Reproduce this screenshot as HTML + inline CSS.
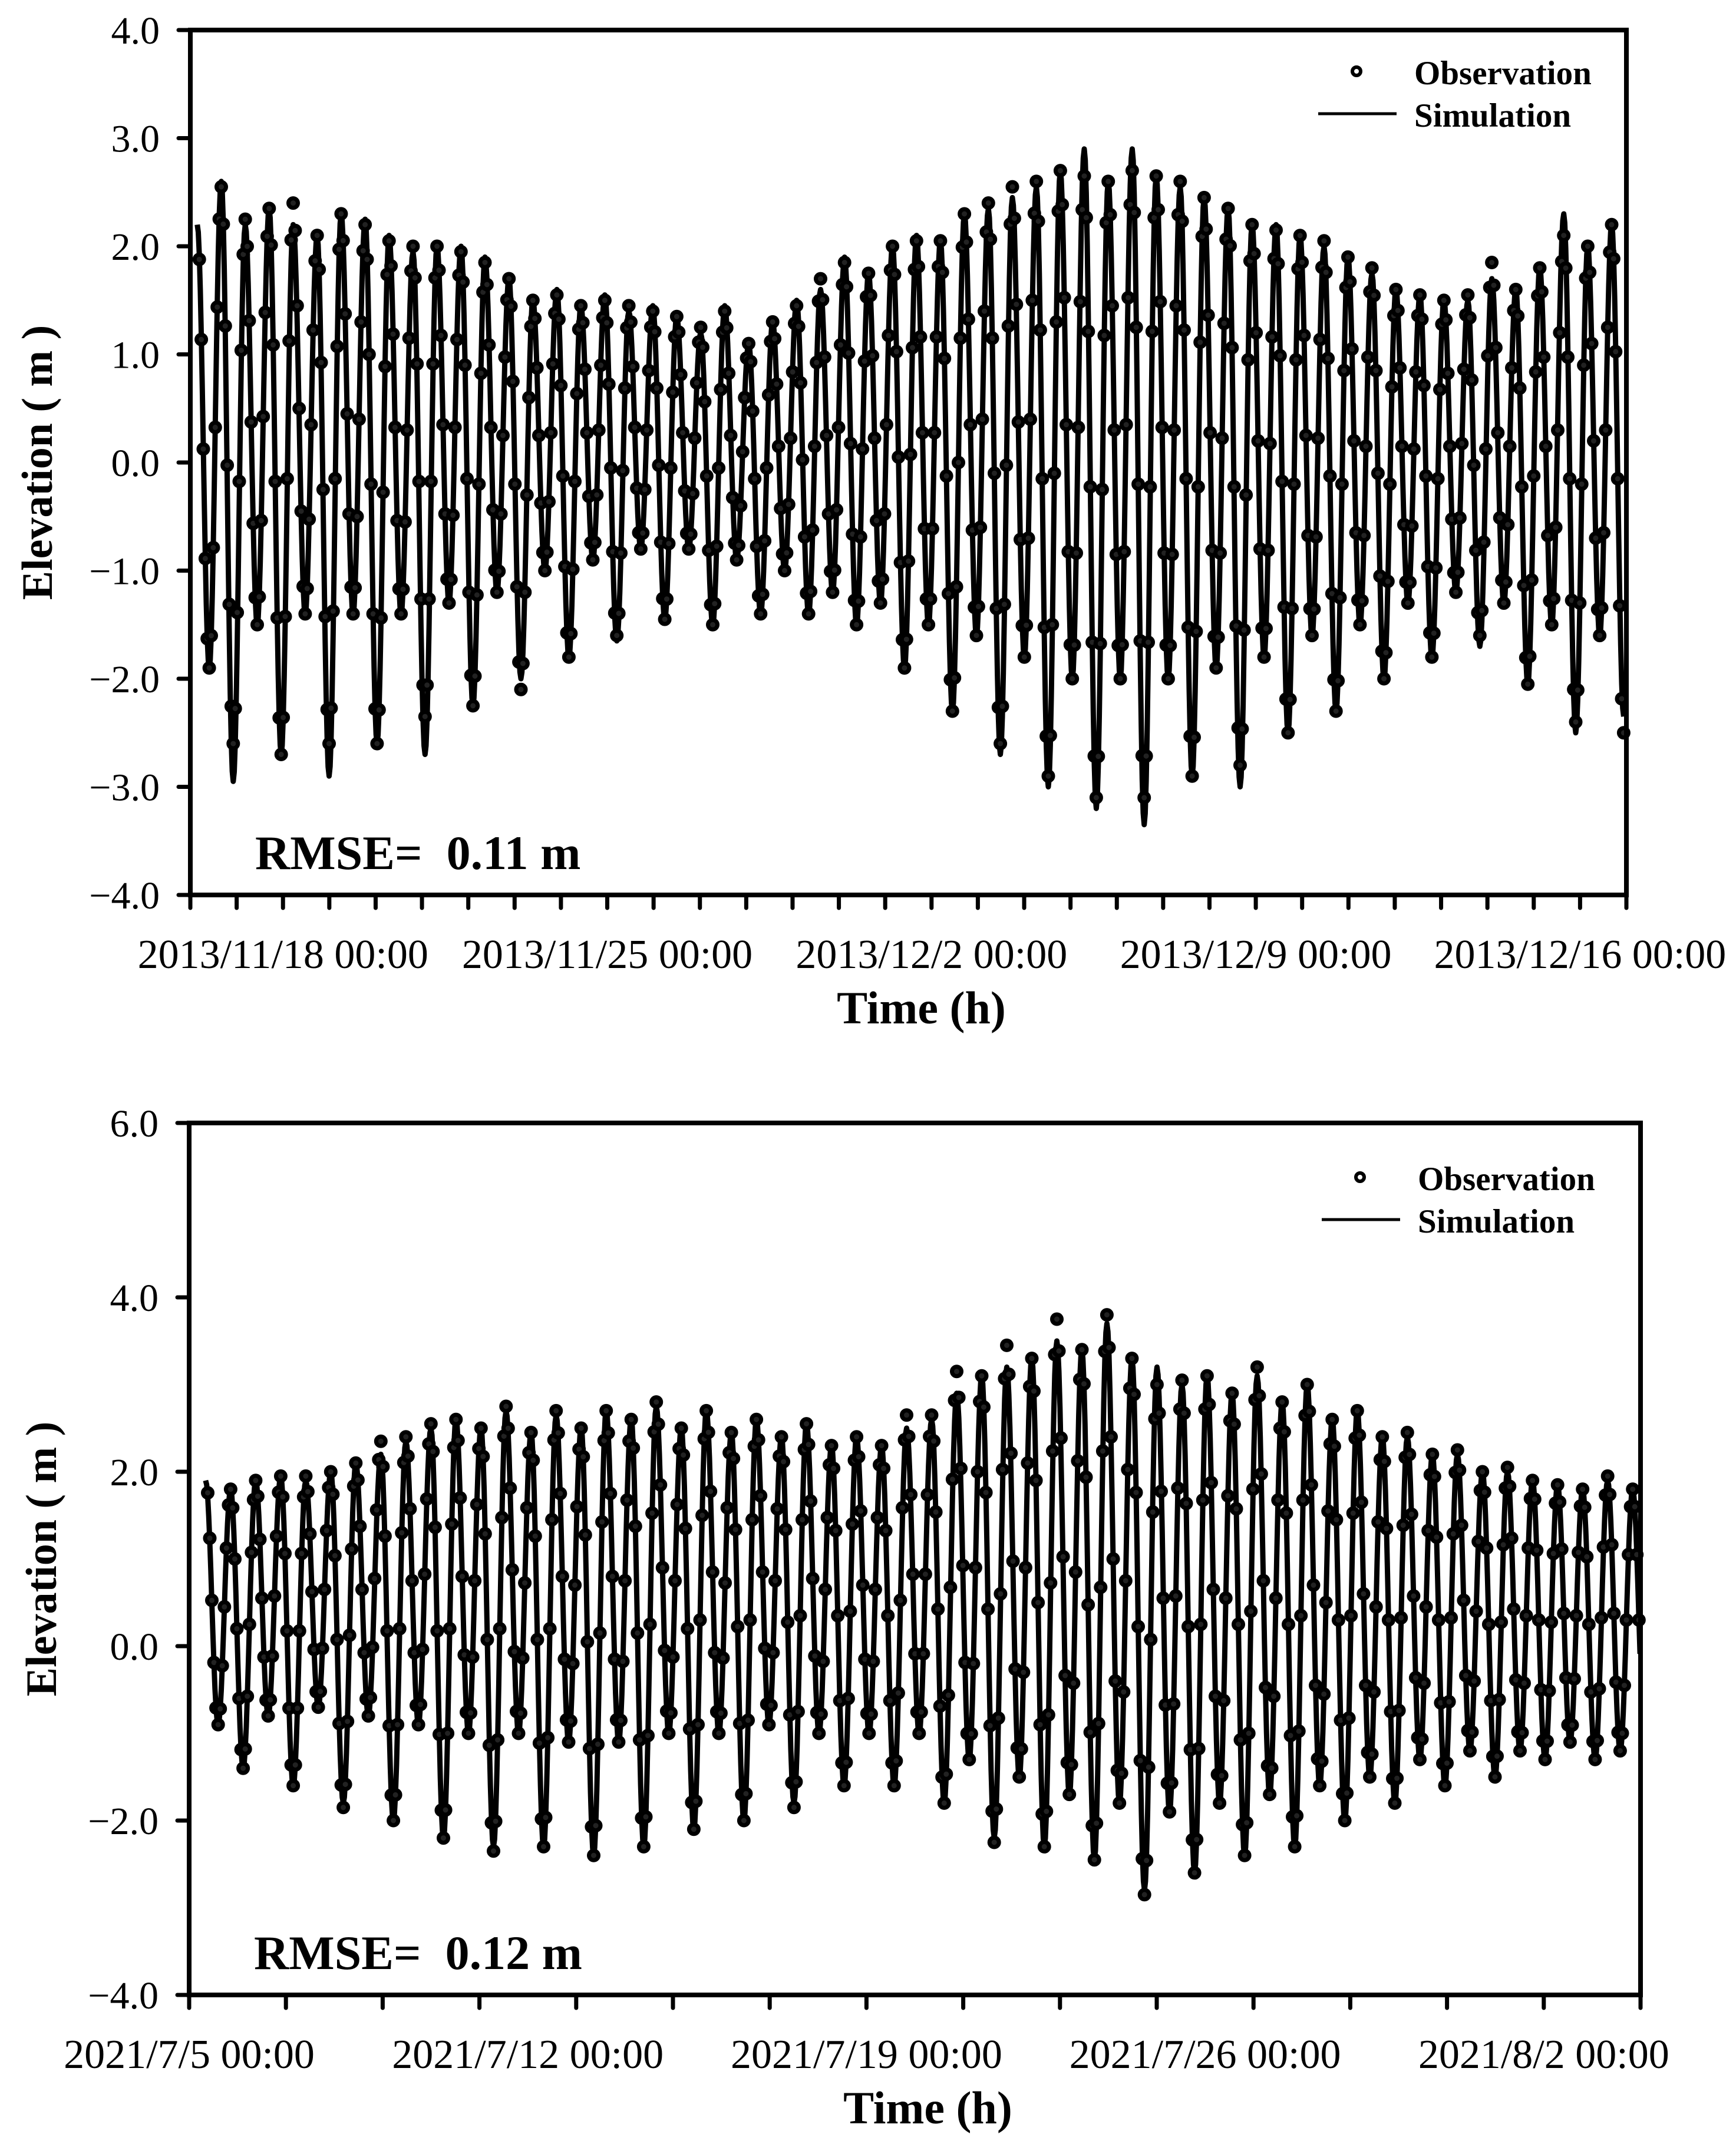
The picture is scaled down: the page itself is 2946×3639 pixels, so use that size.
<!DOCTYPE html>
<html><head><meta charset="utf-8">
<style>
html,body{margin:0;padding:0;background:#fff;}
svg{display:block;}
text{font-family:"Liberation Serif",serif;fill:#000;white-space:pre;}
</style></head>
<body>
<svg id="fig" width="2946" height="3639" viewBox="0 0 2946 3639" xmlns="http://www.w3.org/2000/svg"></svg>
<script>
// ---------- Chart 1 data (2013) ----------
const topYTicks = [4.0, 3.0, 2.0, 1.0, 0.0, -1.0, -2.0, -3.0, -4.0];
const topXLabels = ["2013/11/18 00:00", "2013/11/25 00:00", "2013/12/2 00:00", "2013/12/9 00:00", "2013/12/16 00:00"];
const topXLabelDays = [2, 9, 16, 23, 30];
const topHighs = [2.2,2.6,2.2,2.35,2.2,2.1,2.3,2.25,2.1,1.95,2.0,2.0,1.9,1.7,1.5,1.6,1.45,1.55,1.4,1.45,1.35,1.2,1.45,1.1,1.3,1.5,1.6,1.9,1.75,2.0,2.1,2.05,2.3,2.35,2.45,2.55,2.7,2.9,2.6,2.9,2.65,2.55,2.45,2.35,2.2,2.2,2.1,2.0,1.9,1.75,1.6,1.55,1.5,1.5,1.7,1.6,1.8,2.3,2.0,2.2];
const topLows = [-1.9,-2.95,-1.5,-2.7,-1.4,-2.9,-1.4,-2.6,-1.4,-2.7,-1.3,-2.25,-1.2,-2.0,-1.0,-1.8,-0.9,-1.65,-0.8,-1.45,-0.8,-1.5,-0.9,-1.4,-1.0,-1.4,-1.2,-1.5,-1.3,-1.9,-1.5,-2.3,-1.6,-2.7,-1.8,-3.0,-2.0,-3.2,-2.0,-3.35,-2.0,-2.9,-1.9,-3.0,-1.8,-2.5,-1.6,-2.3,-1.5,-2.0,-1.3,-1.8,-1.2,-1.7,-1.3,-2.05,-1.5,-2.5,-1.6,-2.35];
const topObsHighs = [2.15,2.55,2.25,2.35,2.4,2.1,2.3,2.2,2.05,2.0,2.0,1.95,1.85,1.7,1.5,1.55,1.45,1.5,1.45,1.4,1.35,1.25,1.4,1.1,1.3,1.45,1.7,1.85,1.75,2.0,2.05,2.05,2.3,2.4,2.55,2.6,2.7,2.65,2.6,2.7,2.65,2.6,2.45,2.35,2.2,2.15,2.1,2.05,1.9,1.8,1.6,1.55,1.5,1.55,1.85,1.6,1.8,2.1,2.0,2.2];
const topObsLows = [-1.9,-2.6,-1.5,-2.7,-1.4,-2.6,-1.4,-2.6,-1.4,-2.35,-1.3,-2.25,-1.2,-2.1,-1.0,-1.8,-0.9,-1.6,-0.8,-1.45,-0.8,-1.5,-0.9,-1.4,-1.0,-1.4,-1.2,-1.5,-1.3,-1.9,-1.5,-2.3,-1.6,-2.6,-1.8,-2.9,-2.0,-3.1,-2.0,-3.1,-2.0,-2.9,-1.9,-2.8,-1.8,-2.5,-1.6,-2.3,-1.5,-2.0,-1.3,-1.8,-1.2,-1.6,-1.3,-2.05,-1.5,-2.4,-1.6,-2.5];

// ---------- Chart 2 data (2021) ----------
const botYTicks = [6.0, 4.0, 2.0, 0.0, -2.0, -4.0];
const botXLabels = ["2021/7/5 00:00", "2021/7/12 00:00", "2021/7/19 00:00", "2021/7/26 00:00", "2021/8/2 00:00"];
const botXLabelDays = [0, 7, 14, 21, 28];
const botHighs = [1.9,1.8,1.9,1.95,1.9,2.0,2.1,2.2,2.35,2.5,2.6,2.5,2.7,2.45,2.65,2.5,2.7,2.6,2.75,2.5,2.7,2.45,2.6,2.4,2.55,2.3,2.4,2.3,2.5,2.6,2.9,3.1,3.2,3.3,3.5,3.4,3.7,3.3,3.2,3.0,3.1,2.9,3.1,2.8,3.0,2.6,2.7,2.4,2.4,2.2,2.2,2.0,2.0,1.9,1.85,1.8,1.9,1.8,1.9];
const botLows = [-0.9,-1.4,-0.8,-1.6,-0.7,-1.8,-0.8,-2.0,-0.9,-2.2,-1.0,-2.3,-1.0,-2.3,-1.1,-2.4,-1.1,-2.3,-1.0,-2.1,-1.0,-2.0,-0.9,-1.8,-1.0,-1.6,-1.0,-1.6,-1.0,-1.8,-1.3,-2.2,-1.5,-2.3,-1.7,-2.45,-1.8,-2.8,-1.9,-2.6,-1.8,-2.4,-1.7,-2.3,-1.6,-2.0,-1.5,-1.8,-1.3,-1.6,-1.2,-1.5,-1.2,-1.3,-1.1,-1.3,-1.2,-1.2,-1.1];
const botObsHighs = [1.95,1.8,1.9,1.95,1.95,2.0,2.1,2.35,2.4,2.55,2.6,2.5,2.75,2.45,2.7,2.5,2.7,2.6,2.8,2.5,2.7,2.45,2.6,2.4,2.55,2.3,2.4,2.3,2.65,2.65,3.15,3.1,3.45,3.3,3.75,3.4,3.8,3.3,3.0,3.05,3.1,2.9,3.2,2.8,3.0,2.6,2.7,2.4,2.45,2.2,2.25,2.0,2.05,1.9,1.85,1.8,1.95,1.8,1.9];
const botObsLows = [-0.9,-1.4,-0.8,-1.6,-0.7,-1.85,-0.8,-2.0,-0.9,-2.2,-1.0,-2.35,-1.0,-2.3,-1.1,-2.4,-1.1,-2.3,-1.0,-2.1,-1.0,-2.0,-0.9,-1.85,-1.0,-1.6,-1.0,-1.6,-1.0,-1.8,-1.3,-2.25,-1.5,-2.3,-1.7,-2.45,-1.8,-2.85,-1.9,-2.6,-1.8,-2.4,-1.7,-2.3,-1.6,-2.0,-1.5,-1.8,-1.3,-1.6,-1.2,-1.5,-1.2,-1.3,-1.1,-1.3,-1.2,-1.2,-1.1];

const NS = "http://www.w3.org/2000/svg";
const svg = document.getElementById("fig");
function mk(tag, attrs, parent){
  const e = document.createElementNS(NS, tag);
  for (const k in attrs) e.setAttribute(k, attrs[k]);
  (parent||svg).appendChild(e);
  return e;
}

function drawChart(cfg){
  const g = mk("g", {});
  
  
  const L=cfg.x0, R=cfg.x1, T=cfg.y0, B=cfg.y1;
  const xs = d => L + (d/cfg.days)*(R-L);
  const ys = v => T + (cfg.ymax - v)/(cfg.ymax-cfg.ymin)*(B-T);

  const period = 12.42/24;
  const ext = [];
  for (let i=0;i<cfg.highs.length;i++){
    ext.push({t: cfg.t0 + i*period, v: cfg.highs[i], o: cfg.obsHighs[i]});
    if (i < cfg.lows.length) ext.push({t: cfg.t0 + i*period + period/2, v: cfg.lows[i], o: cfg.obsLows[i]});
  }
  let d = "";
  const obsPts = [];
  for (let k=0;k<ext.length-1;k++){
    const a=ext[k], b=ext[k+1];
    const n=12;
    for (let j=0;j<=n;j++){
      const f=j/n, t=a.t+(b.t-a.t)*f;
      if (t<0 || t>cfg.days) continue;
      const w=(1-Math.cos(Math.PI*f))/2;
      const v=a.v+(b.v-a.v)*w;
      d += (d===""?"M":"L") + xs(t).toFixed(1) + " " + ys(v).toFixed(1) + " ";
    }
    const steps=6;
    for (let j=1;j<=steps;j++){
      const f=j/steps, t=a.t+(b.t-a.t)*f;
      if (t<0 || t>cfg.days) continue;
      const w=(1-Math.cos(Math.PI*f))/2;
      obsPts.push([t, a.o+(b.o-a.o)*w]);
    }
  }
  const line = mk("path", {d:d, fill:"none", stroke:"#000", "stroke-width":9, "stroke-linejoin":"round"}, g);
  
  
  const og = mk("g", {}, g);
  
  
  obsPts.forEach(p=>{
    const c = mk("circle", {cx:xs(p[0]).toFixed(1), cy:ys(p[1]).toFixed(1), r:8, fill:"#222", stroke:"#000", "stroke-width":7}, og);
    
    
  });

  const box = mk("rect", {x:L, y:T, width:R-L, height:B-T, fill:"none", stroke:"#000", "stroke-width":8}, g);
  
  

  for (let v=cfg.ymin; v<=cfg.ymax+1e-9; v+=cfg.yminor){
    const tk = mk("line", {x1:L-20, x2:L, y1:ys(v), y2:ys(v), stroke:"#000", "stroke-width":7, "stroke-linecap":"round"}, g);
    
    
  }
  cfg.yTicks.forEach(v=>{
    const t = mk("text", {x:L-52, y:ys(v)+23, "font-size":66, "text-anchor":"end"}, g);
    t.textContent = (v<0?"\u2212":"") + Math.abs(v).toFixed(1);
    
    
  });
  for (let dd=0; dd<=cfg.days+1e-9; dd+=cfg.xminor){
    const tk = mk("line", {x1:xs(dd), x2:xs(dd), y1:B, y2:B+22, stroke:"#000", "stroke-width":7, "stroke-linecap":"round"}, g);
    
    
  }
  cfg.xLabels.forEach((s,i)=>{
    const t = mk("text", {x:xs(cfg.xLabelDays[i]), y:B+124, "font-size":70, "text-anchor":"middle"}, g);
    t.textContent = s;
    
    
  });
  const xt = mk("text", {x:(L+R)/2+22, y:B+218, "font-size":78, "font-weight":"bold", "text-anchor":"middle"}, g);
  xt.textContent = "Time (h)";
  
  
  const cy = (T+B)/2;
  const yt = mk("text", {x:0, y:0, "font-size":74, "font-weight":"bold", "text-anchor":"middle", transform:"translate("+cfg.ytx+","+cy+") rotate(-90)"}, g);
  yt.textContent = "Elevation ( m )";
  
  

  const rm = mk("text", {x:L+110, y:B-44, "font-size":82, "font-weight":"bold"}, g);
  rm.textContent = cfg.rmse;
  
  

  const lg = mk("g", {}, g);
  
  
  const lx = cfg.legX, ly = T+cfg.legDy;
  const ld = mk("circle", {cx:lx+65, cy:ly, r:7, fill:"#fff", stroke:"#000", "stroke-width":6}, lg);
  
  
  const lt1 = mk("text", {x:lx+163, y:ly+22, "font-size":57, "font-weight":"bold"}, lg);
  lt1.textContent = "Observation";
  
  
  const ll = mk("line", {x1:lx, x2:lx+133, y1:ly+72, y2:ly+72, stroke:"#000", "stroke-width":5}, lg);
  
  
  const lt2 = mk("text", {x:lx+163, y:ly+94, "font-size":57, "font-weight":"bold"}, lg);
  lt2.textContent = "Simulation";
  
  
}

drawChart({name:"chart-2013", x0:323, x1:2760, y0:51, y1:1519, days:31, t0:0.15,
  ymin:-4, ymax:4, yminor:1, xminor:1, yTicks:topYTicks, xLabels:topXLabels, xLabelDays:topXLabelDays,
  highs:topHighs, lows:topLows, obsHighs:topObsHighs, obsLows:topObsLows,
  rmse:"RMSE=\u00a0\u00a00.11 m", legX:2237, legDy:70, ytx:88});

drawChart({name:"chart-2021", x0:321, x1:2784, y0:1906, y1:3386, days:30, t0:0.34,
  ymin:-4, ymax:6, yminor:2, xminor:2, yTicks:botYTicks, xLabels:botXLabels, xLabelDays:botXLabelDays,
  highs:botHighs, lows:botLows, obsHighs:botObsHighs, obsLows:botObsLows,
  rmse:"RMSE=\u00a0\u00a00.12 m", legX:2243, legDy:92, ytx:95});
</script>
</body></html>
